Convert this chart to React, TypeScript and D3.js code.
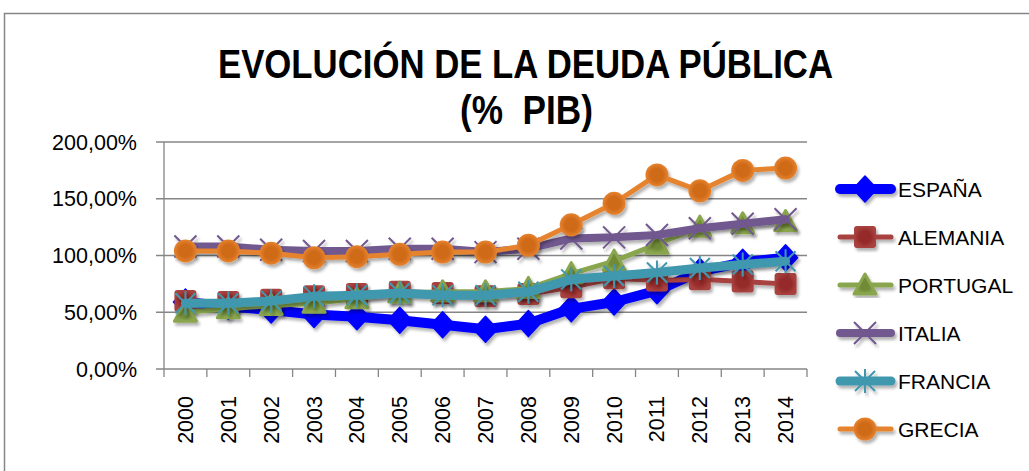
import React from "react";
import * as d3 from "d3";

const years = ["2000","2001","2002","2003","2004","2005","2006","2007","2008","2009","2010","2011","2012","2013","2014"];
const espana = [59, 55, 52, 48, 46, 43, 39, 35, 40, 53, 59, 69, 86, 94, 98];
const alemania = [60, 59, 61, 64, 66, 68, 67, 64, 66, 72, 80, 78, 79, 77, 75];
const portugal = [50, 53, 56, 58, 62, 67, 68, 68, 71, 84, 95, 110, 125, 128, 130];
const italia = [108, 108, 105, 104, 104, 106, 106, 103, 106, 115, 116, 118, 124, 128, 132];
const francia = [58, 58, 60, 64, 65, 67, 65, 65, 68, 79, 82, 85, 89, 92, 95];
const grecia = [104, 104, 102, 98, 99, 101, 103, 103, 109, 127, 146, 171, 157, 175, 177];
const yTicks = [0, 50, 100, 150, 200];

const seriesList = [
  { name: "ESPAÑA", values: espana, color: "#0000FF", dark: "#0000e0", width: 10, marker: "diamond" },
  { name: "ALEMANIA", values: alemania, color: "#A8423F", dark: "#962c2a", width: 5, marker: "square" },
  { name: "PORTUGAL", values: portugal, color: "#89A54E", dark: "#6f8a36", width: 5, marker: "triangle" },
  { name: "ITALIA", values: italia, color: "#71588F", dark: "#71588F", width: 8, marker: "x" },
  { name: "FRANCIA", values: francia, color: "#4198AF", dark: "#4198AF", width: 9, marker: "star" },
  { name: "GRECIA", values: grecia, color: "#E6832F", dark: "#cf6a19", width: 5, marker: "circle" },
];

const W = 1029, H = 471;
const M = { left: 164, right: 807, top: 142, bottom: 369 };

function Marker({ type, color, id }: { type: string; color: string; id: string }) {
  const fill = `url(#g-${id})`;
  switch (type) {
    case "diamond":
      return <path d="M0,-13 L12,0 L0,13 L-12,0Z" fill={color} stroke={color} strokeWidth={1.5} strokeLinejoin="round" />;
    case "square":
      return <rect x={-11} y={-11} width={22} height={22} rx={3} fill={fill} />;
    case "triangle":
      return <path d="M0,-11 L11,9 L-11,9Z" fill={fill} stroke={color} strokeWidth={3} strokeLinejoin="round" />;
    case "x":
      return <path d="M-11,-11 L11,11 M-11,11 L11,-11" stroke={color} strokeWidth={2} fill="none" />;
    case "star":
      return <path d="M-10,-10 L10,10 M-10,10 L10,-10 M0,-12 L0,12" stroke={color} strokeWidth={2} fill="none" />;
    case "circle":
      return <circle r={11.5} fill={fill} />;
  }
  return null;
}

export default function App() {
  const x = d3.scaleBand<string>().domain(years).range([M.left, M.right]);
  const y = d3.scaleLinear().domain([0, 200]).range([M.bottom, M.top]);
  const cx = (yr: string) => (x(yr) as number) + x.bandwidth() / 2;
  const line = d3.line<number>().x((_, i) => cx(years[i])).y((v) => y(v));
  const fmt = (v: number) => v.toFixed(2).replace(".", ",") + "%";
  const boundaries = years.map((yr) => x(yr) as number).concat([M.right]);
  const legendY = d3.scalePoint<string>().domain(seriesList.map((s) => s.name)).range([189, 429]);
  const font = "'Liberation Sans', Arial, sans-serif";

  return (
    <svg width={W} height={H} style={{ position: "absolute", left: 0, top: 0, background: "#fff" }} fontFamily={font}>
      <defs>
        <filter id="sh" x="-20%" y="-20%" width="140%" height="140%">
          <feDropShadow dx={2} dy={3} stdDeviation={1.6} floodColor="#000" floodOpacity={0.3} />
        </filter>
        {seriesList.map((s, i) => (
          <radialGradient key={i} id={`g-${i}`} cx="50%" cy="50%" r="50%">
            <stop offset="0%" stopColor={s.dark} />
            <stop offset="55%" stopColor={s.dark} />
            <stop offset="100%" stopColor={s.color} />
          </radialGradient>
        ))}
      </defs>
      <rect x={4.5} y={13.5} width={1100} height={600} fill="#fff" stroke="#868686" strokeWidth={1.5} />

      <text x={525.5} y={78} textAnchor="middle" fontSize={41} fontWeight="bold" textLength={615} lengthAdjust="spacingAndGlyphs" fontFamily="'Liberation Sans Narrow', 'Liberation Sans', Arial, sans-serif">EVOLUCIÓN DE LA DEUDA PÚBLICA</text>
      <text x={526.5} y={124} textAnchor="middle" fontSize={41} fontWeight="bold" textLength={133} lengthAdjust="spacingAndGlyphs" style={{ whiteSpace: "pre" }} fontFamily="'Liberation Sans Narrow', 'Liberation Sans', Arial, sans-serif">(%  PIB)</text>

      {yTicks.map((t) => (
        <g key={t}>
          <line x1={156} x2={M.right} y1={y(t)} y2={y(t)} stroke="#868686" strokeWidth={1.3} />
          <text x={137} y={y(t)} dy="0.36em" textAnchor="end" fontSize={21.5}>{fmt(t)}</text>
        </g>
      ))}
      <line x1={M.left} x2={M.left} y1={M.top} y2={M.bottom} stroke="#868686" strokeWidth={1.3} />
      {boundaries.map((b, i) => (
        <line key={i} x1={b} x2={b} y1={M.bottom} y2={M.bottom + 8} stroke="#868686" strokeWidth={1.3} />
      ))}
      {years.map((yr) => (
        <text key={yr} transform={`translate(${cx(yr) + 7.5},396) rotate(-90)`} textAnchor="end" fontSize={21.5}>{yr}</text>
      ))}

      {seriesList.map((s, i) => (
        <g key={s.name} filter="url(#sh)">
          <path d={line(s.values) || ""} fill="none" stroke={s.color} strokeWidth={s.width} strokeLinejoin="round" strokeLinecap="round" />
          {s.values.map((v, j) => (
            <g key={j} transform={`translate(${cx(years[j])},${y(v)})`}>
              <Marker type={s.marker} color={s.color} id={String(i)} />
            </g>
          ))}
        </g>
      ))}

      {seriesList.map((s, i) => {
        const ly = legendY(s.name) as number;
        return (
          <g key={s.name}>
            <g filter="url(#sh)">
              <line x1={840} x2={891} y1={ly} y2={ly} stroke={s.color} strokeWidth={s.width} strokeLinecap="round" />
              <g transform={`translate(865,${ly})`}>
                <Marker type={s.marker} color={s.color} id={String(i)} />
              </g>
            </g>
            <text x={898} y={ly} dy="0.36em" fontSize={21}>{s.name}</text>
          </g>
        );
      })}
    </svg>
  );
}
